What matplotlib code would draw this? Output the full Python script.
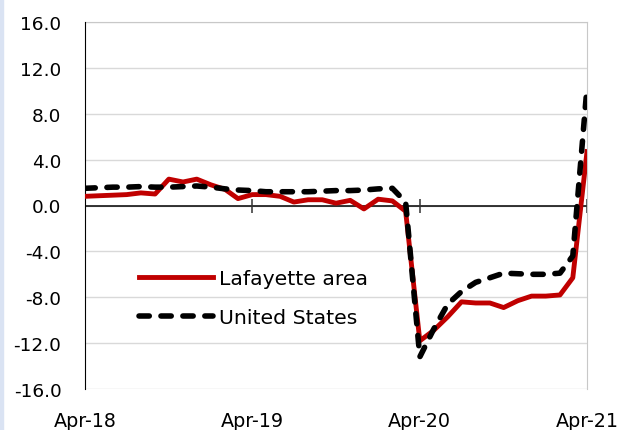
import matplotlib.pyplot as plt
import pandas as pd
import numpy as np

plt.rcParams['font.family'] = ['DejaVu Sans']

# monthly, Apr-18 .. Apr-21
months = pd.date_range('2018-04-01', periods=37, freq='MS')

lafayette = [0.8, 0.85, 0.9, 0.95, 1.1, 1.0, 2.3, 2.05, 2.3, 1.8, 1.4, 0.6,
             0.95, 0.95, 0.8, 0.3, 0.5, 0.5, 0.2, 0.45, -0.3, 0.55, 0.4, -0.5,
             -11.8, -10.9, -9.7, -8.4, -8.5, -8.5, -8.9, -8.3, -7.9, -7.9, -7.8, -6.3,
             4.7]
us = [1.5, 1.55, 1.6, 1.6, 1.65, 1.6, 1.6, 1.65, 1.7, 1.6, 1.45, 1.35,
      1.3, 1.2, 1.2, 1.2, 1.2, 1.25, 1.3, 1.3, 1.35, 1.45, 1.5, 0.3,
      -13.2, -10.8, -8.6, -7.5, -6.7, -6.3, -5.9, -5.95, -6.0, -6.0, -5.9, -4.4,
      10.3]

tick_dates = months[::12]
tick_labels = ['Apr-18', 'Apr-19', 'Apr-20', 'Apr-21']
yticks = np.arange(-16, 17, 4)

fig = plt.figure(figsize=(6.22, 4.31), dpi=100)
ax = fig.add_axes([85/622, 1-390/431, 502/622, 367/431])

# light blue strip at the left edge
fig.patches.append(plt.Rectangle((0, 0), 3/622, 1, transform=fig.transFigure,
                                 color='#dae3f3', zorder=0))

ax.set_ylim(-16, 16)
ax.set_xlim(months[0], months[-1])
ax.set_yticks(yticks)
ax.set_yticklabels(['%.1f' % v for v in yticks])
ax.grid(axis='y', color='#d9d9d9', lw=1)
ax.set_axisbelow(True)

for s in ['top', 'right']:
    ax.spines[s].set_color('#c8c8c8')
ax.spines['left'].set_color('black')
ax.spines['left'].set_zorder(3)
ax.spines['bottom'].set_visible(False)

ax.axhline(0, color='black', lw=1.1, zorder=2)
ax.set_xticks(tick_dates)
ax.tick_params(axis='x', length=0, labelbottom=False)
ax.tick_params(axis='y', length=0, labelsize=13.3, pad=17, colors='black')
ax.plot(tick_dates, [0]*len(tick_dates), ls='none', marker='|', ms=10,
        mew=1.1, color='#333333', zorder=2)
for d, lab in zip(tick_dates, tick_labels):
    ax.text(d, -0.085, lab, transform=ax.get_xaxis_transform(),
            ha='center', va='center', fontsize=13.8)

ax.plot(months, lafayette, color='#c00000', lw=3.5, label='Lafayette area',
        solid_joinstyle='round', zorder=4)
ax.plot(months, us, color='black', lw=4, dashes=(1.85, 2.1),
        dash_capstyle='round', label='United States', zorder=5)

ax.legend(loc='upper left', bbox_to_anchor=(0.088, 0.355), frameon=False,
          fontsize=14.7, handlelength=3.6, handletextpad=0.3, labelspacing=0.98,
          borderpad=0)

fig.savefig('out.png', dpi=100)
